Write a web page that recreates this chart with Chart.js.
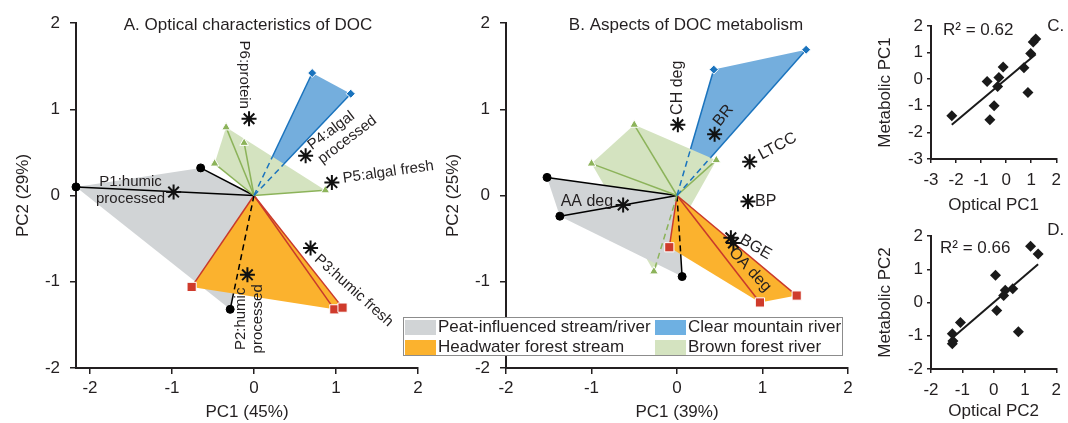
<!DOCTYPE html>
<html lang="en">
<head>
<meta charset="utf-8">
<title>DOC optical and metabolic PCA</title>
<script src="https://cdn.jsdelivr.net/npm/chart.js@4.4.1/dist/chart.umd.min.js"></script>
<style>
  body { margin: 0; background: #fff; }
  #page { position: relative; width: 1068px; height: 423px; overflow: hidden; font-family: "Liberation Sans", Arial, sans-serif; }
  canvas { position: absolute; }
  #legend { position: absolute; left: 403px; top: 317px; width: 438px; height: 37px; border: 1.5px solid #8c8c8c; background: #fff; color: #231f20; font-size: 17px; }
  .item { position: absolute; display: flex; align-items: center; height: 20px; white-space: nowrap; }
  .swatch { width: 31px; height: 15px; margin-right: 2px; }
</style>
</head>
<body>
<div id="page">
  <canvas id="chartA" width="450" height="423" style="left:0;top:0"></canvas>
  <canvas id="chartB" width="420" height="423" style="left:440px;top:0"></canvas>
  <canvas id="chartC" width="208" height="218" style="left:860px;top:0"></canvas>
  <canvas id="chartD" width="208" height="211" style="left:860px;top:212px"></canvas>
  <div id="legend"></div>
</div>
<script>
// --- site groups (legend text)
const groupNames = ['Peat-influenced stream/river', 'Clear mountain river', 'Headwater forest stream', 'Brown forest river'];

// --- site scores; the same site order is kept in the 4 arrays of a group
const peatOptPC1 = [-2.17, -0.65, -0.29];
const peatOptPC2 = [0.10, 0.32, -1.32];
const peatMetPC1 = [-1.37, -1.52, 0.06];
const peatMetPC2 = [-0.24, 0.21, -0.94];

const headOptPC1 = [-0.76, 0.98, 1.08];
const headOptPC2 = [-1.06, -1.32, -1.30];
const headMetPC1 = [-0.09, 0.97, 1.40];
const headMetPC2 = [-0.60, -1.24, -1.16];

const clearOptPC1 = [0.71, 1.18];
const clearOptPC2 = [1.42, 1.18];
const clearMetPC1 = [0.43, 1.51];
const clearMetPC2 = [1.46, 1.69];

const brownOptPC1 = [-0.34, -0.12, -0.48, 0.87];
const brownOptPC2 = [0.79, 0.61, 0.37, 0.06];
const brownMetPC1 = [-0.27, 0.46, -1.00, -0.50];
const brownMetPC2 = [-0.88, 0.41, 0.37, 0.82];

// --- variable loadings (asterisks)
const optVarNames = [['P1:humic', 'processed'], ['P2:humic', 'processed'], ['P3:humic fresh'], ['P4:algal', 'processed'], ['P5:algal fresh'], ['P6:protein']];
const optVarPC1 = [-0.98, -0.08, 0.69, 0.63, 0.95, -0.06];
const optVarPC2 = [0.04, -0.92, -0.61, 0.46, 0.15, 0.89];

const metVarNames = [['AA deg'], ['CH deg'], ['BR'], ['LTCC'], ['BP'], ['BGE'], ['OA deg']];
const metVarPC1 = [-0.63, 0.01, 0.44, 0.85, 0.83, 0.63, 0.66];
const metVarPC2 = [-0.11, 0.82, 0.71, 0.39, -0.07, -0.49, -0.55];

// --- ticks and texts
const biplotTicks = [-2, -1, 0, 1, 2];
const corrTicksC = [-3, -2, -1, 0, 1, 2];
const corrTicksD = [-2, -1, 0, 1, 2];
const rSquaredText = ['R² = 0.62', 'R² = 0.66'];

// ---------------------------------------------------------------
const FONT = '"Liberation Sans", Arial, sans-serif';
const INK = '#231f20';
Chart.defaults.font.family = FONT;
Chart.defaults.font.size = 17;
Chart.defaults.color = INK;

// draw order of the polygons, bottom to top
const groups = [
    { key: 'clear', name: groupNames[1], opt: [clearOptPC1, clearOptPC2], met: [clearMetPC1, clearMetPC2] },
    { key: 'brown', name: groupNames[3], opt: [brownOptPC1, brownOptPC2], met: [brownMetPC1, brownMetPC2] },
    { key: 'peat', name: groupNames[0], opt: [peatOptPC1, peatOptPC2], met: [peatMetPC1, peatMetPC2] },
    { key: 'head', name: groupNames[2], opt: [headOptPC1, headOptPC2], met: [headMetPC1, headMetPC2] }
];

const groupStyle = {
    clear: { fill: '#74aedd', swatch: '#6eb0e2', line: '#1a73bd', marker: '#1a73bd', shape: 'rectRot', radius: 4.5, edge: '#ffffff' },
    brown: { fill: '#d4e3c0', swatch: '#d4e3c0', line: '#8cb35a', marker: '#8cb35a', shape: 'triangle', radius: 5, edge: '#ffffff' },
    peat:  { fill: '#d1d4d6', swatch: '#d1d4d6', line: '#000000', marker: '#000000', shape: 'circle', radius: 4, edge: '#000000' },
    head:  { fill: '#fbb22e', swatch: '#fbb22e', line: '#c9392b', marker: '#cf3b2c', shape: 'rect', radius: 6.5, edge: '#ffffff' }
};

// label placement (pixel offset from its asterisk, rotation in degrees)
const optLabelStyle = [
    { dx: -43, dy: -2, rot: 0, align: 'center' },
    { dx: 2, dy: 44, rot: -90, align: 'center' },
    { dx: 6, dy: 9, rot: 42, align: 'left' },
    { dx: 9, dy: -2, rot: -37, align: 'left' },
    { dx: 11, dy: -4, rot: -8, align: 'left' },
    { dx: -5, dy: -44, rot: 90, align: 'center' }
];
const metLabelStyle = [
    { dx: -10, dy: -3, rot: 0, align: 'right' },
    { dx: 0, dy: -37, rot: -90, align: 'center' },
    { dx: 2, dy: -10, rot: -52, align: 'left' },
    { dx: 10, dy: -6, rot: -28, align: 'left' },
    { dx: 7, dy: 0, rot: 0, align: 'left' },
    { dx: 10, dy: 1, rot: 30, align: 'left' },
    { dx: -2, dy: 7, rot: 47, align: 'left' }
];

function sitePoints(g, which) {
    const [xs, ys] = g[which];
    return xs.map((x, i) => ({ x, y: ys[i] }));
}

// convex hull (monotone chain), returned closed
function hull(pts) {
    const p = pts.slice().sort((a, b) => a.x - b.x || a.y - b.y);
    const cross = (o, a, b) => (a.x - o.x) * (b.y - o.y) - (a.y - o.y) * (b.x - o.x);
    const lower = [], upper = [];
    for (const q of p) {
        while (lower.length >= 2 && cross(lower[lower.length - 2], lower[lower.length - 1], q) <= 0) lower.pop();
        lower.push(q);
    }
    for (let i = p.length - 1; i >= 0; i--) {
        const q = p[i];
        while (upper.length >= 2 && cross(upper[upper.length - 2], upper[upper.length - 1], q) <= 0) upper.pop();
        upper.push(q);
    }
    upper.pop();
    lower.pop();
    const h = lower.concat(upper);
    h.push(h[0]);
    return h;
}

// share of the segment origin->p that lies under polygons drawn above it
function hiddenPart(p, polys) {
    const isOrigin = q => Math.abs(q.x) < 1e-9 && Math.abs(q.y) < 1e-9;
    let t = 0;
    polys.forEach(poly => {
        for (let i = 0; i < poly.length - 1; i++) {
            const a = poly[i], b = poly[i + 1];
            if (isOrigin(a) || isOrigin(b)) continue;
            const ex = b.x - a.x, ey = b.y - a.y;
            const d = p.x * ey - p.y * ex;
            if (Math.abs(d) < 1e-12) continue;
            const tt = (a.x * ey - a.y * ex) / d;
            const u = (a.x * p.y - a.y * p.x) / d;
            if (tt > 0.02 && tt <= 1.0001 && u >= -1e-6 && u <= 1 + 1e-6) t = Math.max(t, tt);
        }
    });
    return Math.min(t, 1);
}

// texts drawn on the canvas: loading labels, panel titles, notes
function textPlugin(labels, labelSize, notes) {
    return {
        id: 'panelText',
        afterDraw(chart) {
            const { ctx, chartArea, scales: { x, y } } = chart;
            ctx.save();
            ctx.fillStyle = INK;
            ctx.textBaseline = 'middle';
            ctx.font = labelSize + 'px ' + FONT;
            labels.forEach(l => {
                ctx.save();
                ctx.translate(x.getPixelForValue(l.x) + l.dx, y.getPixelForValue(l.y) + l.dy);
                ctx.rotate(l.rot * Math.PI / 180);
                ctx.textAlign = l.align;
                l.lines.forEach((s, i) => ctx.fillText(s, 0, (i - (l.lines.length - 1) / 2) * (labelSize + 2)));
                ctx.restore();
            });
            ctx.font = '17px ' + FONT;
            notes.forEach(n => {
                const ref = n.from === 'left' ? chartArea.left : n.from === 'right' ? chartArea.right : (chartArea.left + chartArea.right) / 2;
                ctx.textAlign = n.align;
                ctx.fillText(n.text, ref + n.dx, chartArea.top + n.dy);
            });
            ctx.restore();
        }
    };
}

function axis(o) {
    return {
        type: 'linear',
        min: o.min,
        max: o.max,
        afterBuildTicks: s => { s.ticks = o.ticks.map(v => ({ value: v })); },
        afterFit: s => { if (o.width) s.width = o.width; if (o.height) s.height = o.height; },
        grid: { display: true, drawOnChartArea: false, drawTicks: true, tickLength: o.tickLength, color: INK, lineWidth: 1.5 },
        border: { display: true, color: INK, width: 2 },
        ticks: { padding: o.padding, color: INK, maxRotation: 0, minRotation: 0, autoSkip: false, font: { size: 17 } },
        title: { display: true, text: o.title, color: INK, padding: o.titlePad, font: { size: 17 } }
    };
}

const baseOptions = {
    responsive: false,
    animation: false,
    events: [],
    plugins: { legend: { display: false }, tooltip: { enabled: false } }
};

function biplot(canvasId, p) {
    const datasets = [];
    const hulls = groups.map(g => hull(sitePoints(g, p.which).concat([{ x: 0, y: 0 }])));

    groups.forEach((g, gi) => {
        const st = groupStyle[g.key];
        const pts = sitePoints(g, p.which);

        datasets.push({
            type: 'line', data: hulls[gi], fill: 'shape', backgroundColor: st.fill,
            borderWidth: 0, pointRadius: 0, order: 100 - gi
        });

        pts.forEach(pt => {
            const t = hiddenPart(pt, hulls.slice(gi + 1));
            datasets.push({
                type: 'line',
                data: [{ x: 0, y: 0 }, { x: pt.x * t, y: pt.y * t }, pt],
                borderColor: st.line, borderWidth: 1.5, pointRadius: 0, fill: false, order: 50,
                segment: { borderDash: c => (t > 0 && c.p0DataIndex === 0) ? [6, 4] : undefined }
            });
        });

        datasets.push({
            type: 'scatter', data: pts, pointStyle: st.shape, pointRadius: st.radius,
            backgroundColor: st.marker, borderColor: st.edge, borderWidth: 1, clip: false, order: 20
        });
    });

    const loads = p.varX.map((x, i) => ({ x, y: p.varY[i] }));
    datasets.push({
        type: 'scatter', data: loads, pointStyle: 'star', pointRadius: 7.5,
        borderColor: '#111', borderWidth: 2, clip: false, order: 10
    });

    const labels = p.varNames.map((lines, i) => Object.assign({ lines, x: p.varX[i], y: p.varY[i] }, p.labelStyle[i]));

    return new Chart(document.getElementById(canvasId), {
        type: 'scatter',
        data: { datasets },
        options: Object.assign({}, baseOptions, {
            layout: { padding: { left: 0, top: 23, right: p.right, bottom: 0 } },
            scales: {
                x: axis({ min: p.xMin, max: 2, ticks: biplotTicks, height: 55, tickLength: 6, padding: 4, title: p.xTitle, titlePad: { top: 0, bottom: 0 } }),
                y: axis({ min: -2, max: 2, ticks: biplotTicks, width: p.yWidth, tickLength: 6, padding: 10, title: p.yTitle, titlePad: { top: p.yTitlePad, bottom: 0 } })
            }
        }),
        plugins: [textPlugin(labels, p.labelSize, [{ text: p.title, from: 'center', dx: p.titleDx, dy: 2, align: 'center' }])]
    });
}

function correlation(canvasId, p) {
    const xs = [], ys = [];
    groups.forEach(g => {
        g.opt[p.pc].forEach((v, i) => { xs.push(v); ys.push(g.met[p.pc][i]); });
    });
    const n = xs.length;
    const mx = xs.reduce((a, b) => a + b, 0) / n;
    const my = ys.reduce((a, b) => a + b, 0) / n;
    let sxy = 0, sxx = 0;
    xs.forEach((x, i) => { sxy += (x - mx) * (ys[i] - my); sxx += (x - mx) * (x - mx); });
    const slope = sxy / sxx;
    const icpt = my - slope * mx;
    const x0 = Math.min(...xs), x1 = Math.max(...xs);

    return new Chart(document.getElementById(canvasId), {
        type: 'scatter',
        data: {
            datasets: [
                {
                    type: 'scatter', data: xs.map((x, i) => ({ x, y: ys[i] })), pointStyle: 'rectRot',
                    pointRadius: 5.5, backgroundColor: '#1a1a1a', borderWidth: 0, clip: false, order: 1
                },
                {
                    type: 'line', data: [{ x: x0, y: icpt + slope * x0 }, { x: x1, y: icpt + slope * x1 }],
                    borderColor: '#1a1a1a', borderWidth: 2, pointRadius: 0, fill: false, order: 2
                }
            ]
        },
        options: Object.assign({}, baseOptions, {
            layout: { padding: { left: 0, top: p.top, right: p.right, bottom: 0 } },
            scales: {
                x: axis({ min: p.ticks[0], max: p.ticks[p.ticks.length - 1], ticks: p.ticks, height: p.xHeight, tickLength: 4, padding: 7, title: p.xTitle, titlePad: { top: 0, bottom: p.xTitlePad } }),
                y: axis({ min: p.ticks[0], max: p.ticks[p.ticks.length - 1], ticks: p.ticks, width: 71, tickLength: 4, padding: 4, title: p.yTitle, titlePad: { top: 15, bottom: 0 } })
            }
        }),
        plugins: [textPlugin([], 17, [
            { text: p.r2, from: 'left', dx: p.r2dx, dy: p.r2dy, align: 'left' },
            { text: p.tag, from: 'right', dx: -9, dy: p.tagDy, align: 'left' }
        ])]
    });
}

biplot('chartA', {
    which: 'opt', xMin: -2.17, yWidth: 76, yTitlePad: 13, right: 32, labelSize: 15,
    xTitle: 'PC1 (45%)', yTitle: 'PC2 (29%)', title: 'A. Optical characteristics of DOC', titleDx: 1,
    varNames: optVarNames, varX: optVarPC1, varY: optVarPC2, labelStyle: optLabelStyle
});

biplot('chartB', {
    which: 'met', xMin: -2, yWidth: 66, yTitlePad: 3, right: 12, labelSize: 16,
    xTitle: 'PC1 (39%)', yTitle: 'PC2 (25%)', title: 'B. Aspects of DOC metabolism', titleDx: 9,
    varNames: metVarNames, varX: metVarPC1, varY: metVarPC2, labelStyle: metLabelStyle
});

correlation('chartC', {
    pc: 0, ticks: corrTicksC, top: 26, right: 6, xHeight: 59, xTitlePad: 2,
    xTitle: 'Optical PC1', yTitle: 'Metabolic PC1', r2: rSquaredText[0], r2dx: 12, r2dy: 4, tag: 'C.', tagDy: 0
});

correlation('chartD', {
    pc: 1, ticks: corrTicksD, top: 24, right: 5, xHeight: 54, xTitlePad: 1,
    xTitle: 'Optical PC2', yTitle: 'Metabolic PC2', r2: rSquaredText[1], r2dx: 9, r2dy: 12, tag: 'D.', tagDy: -6
});

// legend box (HTML text)
const legendOrder = ['peat', 'clear', 'head', 'brown'];
const legendEl = document.getElementById('legend');
legendOrder.forEach((key, i) => {
    const g = groups.find(gr => gr.key === key);
    const item = document.createElement('div');
    item.className = 'item';
    item.style.left = (i % 2 === 0 ? 1 : 251) + 'px';
    item.style.top = (i < 2 ? -1 : 19) + 'px';
    item.innerHTML = `<span class="swatch" style="background:${groupStyle[key].swatch}"></span><span>${g.name}</span>`;
    legendEl.appendChild(item);
});
</script>
</body>
</html>
